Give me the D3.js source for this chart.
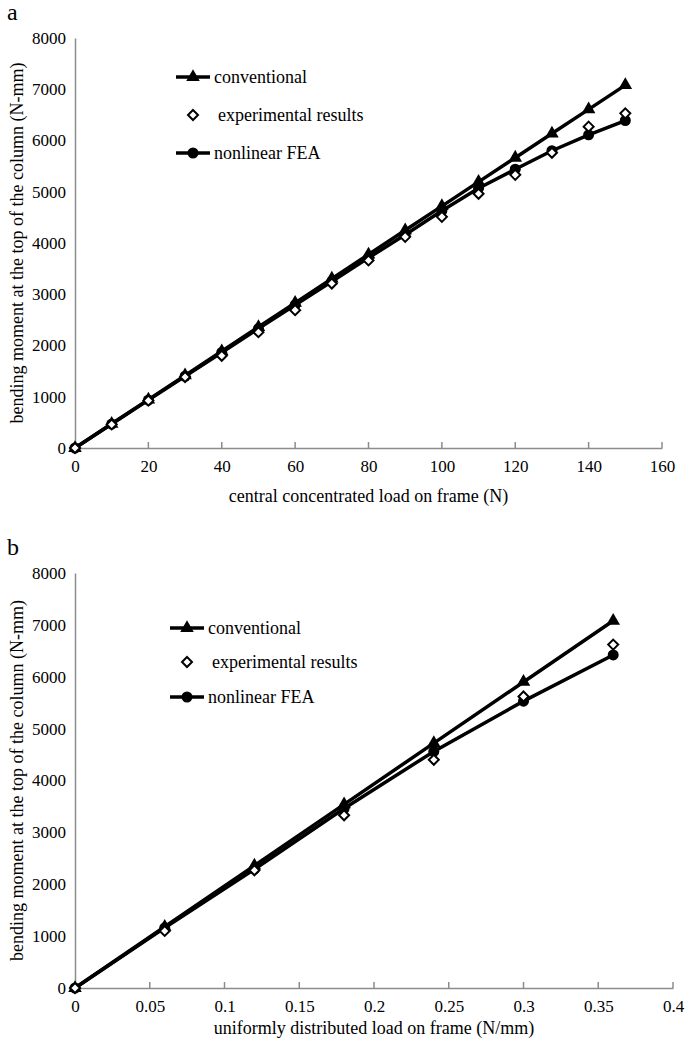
<!DOCTYPE html>
<html><head><meta charset="utf-8">
<script src="https://cdn.jsdelivr.net/npm/d3@7"></script>
<style>body{margin:0;background:#fff}svg{display:block}text{font-family:"Liberation Serif","Times New Roman",serif !important;fill:#000}</style>
</head><body>
<script>
// Panel a
const loadA = [0,10,20,30,40,50,60,70,80,90,100,110,120,130,140,150];
const convA = [0,472,944,1416,1888,2360,2832,3304,3776,4248,4720,5192,5664,6136,6608,7080];
const expA  = [0,460,925,1385,1800,2260,2690,3210,3660,4120,4510,4960,5330,5760,6270,6530];
const feaA  = [0,468,935,1400,1865,2330,2790,3250,3710,4160,4630,5070,5440,5800,6110,6390];
const xTicksA = [0,20,40,60,80,100,120,140,160];
// Panel b
const loadB = [0,0.06,0.12,0.18,0.24,0.3,0.36];
const convB = [0,1180,2360,3540,4720,5900,7080];
const expB  = [0,1100,2270,3330,4400,5620,6620];
const feaB  = [0,1160,2290,3460,4560,5530,6420];
const xTicksB = [0,0.05,0.1,0.15,0.2,0.25,0.3,0.35,0.4];
const yTicks = [0,1000,2000,3000,4000,5000,6000,7000,8000];
const seriesNames = ["conventional","experimental results","nonlinear FEA"];

const svg = d3.select("body").append("svg").attr("width",685).attr("height",1044);

function panel(cfg){
  const g = svg.append("g");
  const x = d3.scaleLinear().domain(cfg.xDomain).range([75,cfg.xRight]);
  const y = d3.scaleLinear().domain([0,8000]).range([cfg.y0,cfg.y8]);
  const xa = g.append("g").attr("transform",`translate(0,${cfg.y0})`)
    .call(d3.axisBottom(x).tickValues(cfg.xTicks).tickSize(0).tickPadding(12).tickFormat(d=>String(+d.toFixed(2))));
  xa.select(".domain").attr("stroke","#8c8c8c").attr("stroke-width",1.5);
  xa.selectAll("text").attr("font-size",17);
  g.append("g").selectAll("line").data(cfg.xTicks.slice(1)).join("line")
    .attr("x1",d=>x(d)).attr("x2",d=>x(d)).attr("y1",cfg.y0).attr("y2",cfg.y0-6)
    .attr("stroke","#8c8c8c").attr("stroke-width",1.5);
  const ya = g.append("g").attr("transform","translate(75,0)")
    .call(d3.axisLeft(y).tickValues(yTicks).tickSize(0).tickPadding(9).tickFormat(d3.format("d")));
  ya.select(".domain").attr("stroke","#8c8c8c").attr("stroke-width",1.5);
  ya.selectAll("text").attr("font-size",17);
  g.append("text").attr("x",(75+cfg.xRight)/2).attr("y",cfg.y0+cfg.titleOff).attr("text-anchor","middle")
    .attr("font-size",18).text(cfg.xTitle);
  g.append("text").attr("transform",`translate(17,${(cfg.y0+cfg.y8)/2}) rotate(-90)`)
    .attr("text-anchor","middle").attr("dy","0.35em").attr("font-size",18)
    .text("bending moment at the top of the column (N-mm)");
  g.append("text").attr("x",7).attr("y",cfg.y8-18).attr("font-size",24).text(cfg.label);

  const line = d3.line().x(d=>x(d[0])).y(d=>y(d[1]));
  const dConv = cfg.load.map((v,i)=>[v,cfg.conv[i]]);
  const dExp = cfg.load.map((v,i)=>[v,cfg.exp[i]]);
  const dFea = cfg.load.map((v,i)=>[v,cfg.fea[i]]);
  g.append("path").datum(dFea).attr("d",line).attr("fill","none").attr("stroke","#000").attr("stroke-width",3.5);
  g.append("path").datum(dConv).attr("d",line).attr("fill","none").attr("stroke","#000").attr("stroke-width",3.5);
  const tri = d3.symbol().type(d3.symbolTriangle).size(80);
  const dia = "M0,-5L5,0L0,5L-5,0Z";
  g.selectAll(".tri").data(dConv).join("path").attr("d",tri)
    .attr("transform",d=>`translate(${x(d[0])},${y(d[1])})`).attr("fill","#000");
  g.selectAll(".cir").data(dFea).join("circle").attr("cx",d=>x(d[0])).attr("cy",d=>y(d[1]))
    .attr("r",5.5).attr("fill","#000");
  g.selectAll(".dia").data(dExp).join("path").attr("d",dia)
    .attr("transform",d=>`translate(${x(d[0])},${y(d[1])})`).attr("fill","#fff").attr("stroke","#000").attr("stroke-width",2);
  const L = cfg.legend;
  g.append("line").attr("x1",L.x).attr("x2",L.x+34).attr("y1",L.y[0]).attr("y2",L.y[0]).attr("stroke","#000").attr("stroke-width",3.5);
  g.append("path").attr("d",tri).attr("transform",`translate(${L.x+17},${L.y[0]})`).attr("fill","#000");
  g.append("path").attr("d",dia).attr("transform",`translate(${L.x+17},${L.y[1]})`).attr("fill","#fff").attr("stroke","#000").attr("stroke-width",2);
  g.append("line").attr("x1",L.x).attr("x2",L.x+34).attr("y1",L.y[2]).attr("y2",L.y[2]).attr("stroke","#000").attr("stroke-width",3.5);
  g.append("circle").attr("cx",L.x+17).attr("cy",L.y[2]).attr("r",5.5).attr("fill","#000");
  seriesNames.forEach((n,i)=>{
    g.append("text").attr("x",L.x+(i===1?42:38)).attr("y",L.y[i]).attr("dy","0.35em").attr("font-size",18).text(n);
  });
}

panel({label:"a",xDomain:[0,160],xRight:662,y0:448,y8:38,xTicks:xTicksA,load:loadA,conv:convA,exp:expA,fea:feaA,
  titleOff:54,xTitle:"central concentrated load on frame (N)",legend:{x:176,y:[77,115,153]}});
panel({label:"b",xDomain:[0,0.4],xRight:673,y0:988,y8:573,xTicks:xTicksB,load:loadB,conv:convB,exp:expB,fea:feaB,
  titleOff:46,xTitle:"uniformly distributed load on frame (N/mm)",legend:{x:170,y:[628,662,697]}});
</script>
</body></html>
